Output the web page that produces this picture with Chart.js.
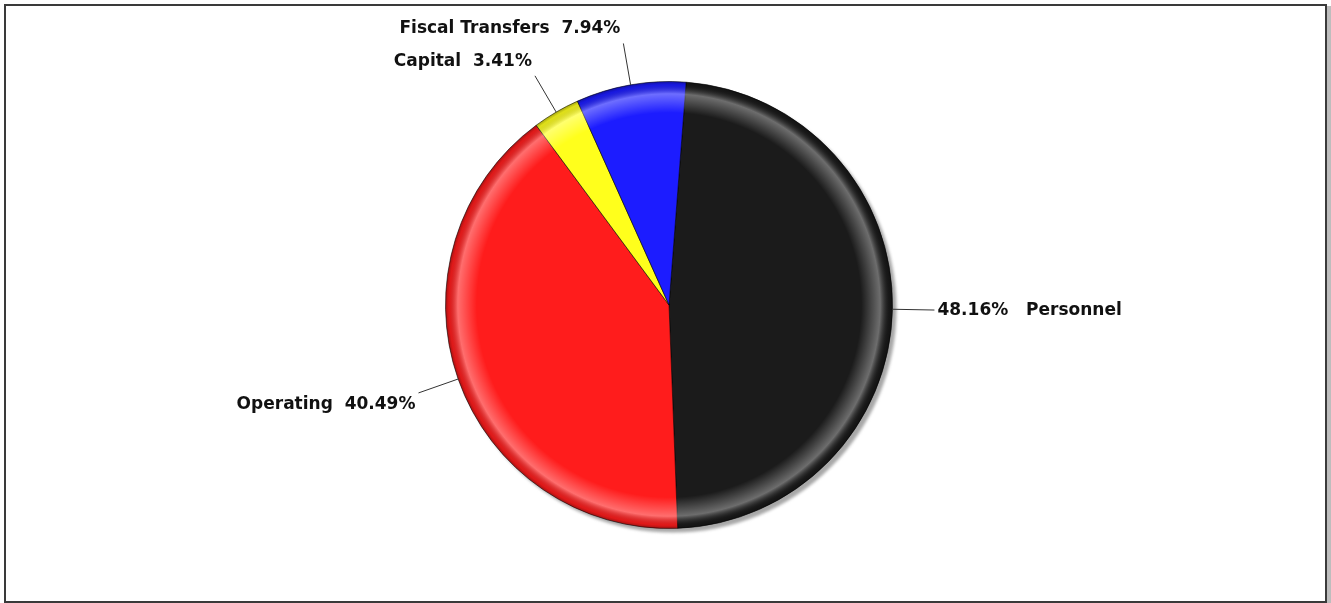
<!DOCTYPE html>
<html>
<head>
<meta charset="utf-8">
<script src="https://cdn.jsdelivr.net/npm/chart.js@4.4.1/dist/chart.umd.min.js"></script>
<style>
  html, body { margin: 0; padding: 0; background: #fff; }
  #wrap { position: relative; width: 1331px; height: 603px; }
</style>
</head>
<body>
<div id="wrap"><canvas id="spend-chart"></canvas></div>
<script>
// spending shares by category
const categories = ['Personnel', 'Operating', 'Capital', 'Fiscal Transfers'];
const shares = [48.16, 40.49, 3.41, 7.94];
const sliceColors = ['#1b1b1b', '#ff1c1c', '#ffff1c', '#1c1cff'];

// outer frame around the whole chart
const framePlugin = {
    id: 'frame',
    beforeDraw(chart) {
        const c = chart.ctx;
        c.save();
        c.fillStyle = '#bdbdbd';
        c.fillRect(1327, 6, 4, 597);
        c.strokeStyle = '#3a3a3a';
        c.lineWidth = 2;
        c.strokeRect(5, 5, 1321, 597);
        c.restore();
    }
};

// soft drop shadow behind the pie
const shadowPlugin = {
    id: 'pieShadow',
    beforeDatasetsDraw(chart) {
        const arc = chart.getDatasetMeta(0).data[0];
        if (!arc) return;
        const c = chart.ctx;
        c.save();
        c.filter = 'blur(1.5px)';
        c.fillStyle = '#a8a8a8';
        c.beginPath();
        c.arc(arc.x + 4, arc.y + 4, arc.outerRadius, 0, Math.PI * 2);
        c.fill();
        c.restore();
    }
};

// lighter ring near the rim, darker towards the edge
const rimPlugin = {
    id: 'rim',
    afterDatasetsDraw(chart) {
        const arc = chart.getDatasetMeta(0).data[0];
        if (!arc) return;
        const c = chart.ctx;
        const r = arc.outerRadius;
        const g = c.createRadialGradient(arc.x, arc.y, 0, arc.x, arc.y, r);
        g.addColorStop(0, 'rgba(255,255,255,0)');
        g.addColorStop(0.86, 'rgba(255,255,255,0)');
        g.addColorStop(0.945, 'rgba(255,255,255,0.36)');
        g.addColorStop(0.985, 'rgba(0,0,0,0.12)');
        g.addColorStop(1, 'rgba(0,0,0,0.35)');
        c.save();
        c.fillStyle = g;
        c.beginPath();
        c.arc(arc.x, arc.y, r, 0, Math.PI * 2);
        c.fill();
        c.restore();
    }
};

// callout labels with leader lines
const calloutPlugin = {
    id: 'callouts',
    afterDraw(chart) {
        const meta = chart.getDatasetMeta(0);
        const c = chart.ctx;
        c.save();
        c.font = 'bold 17px "DejaVu Sans", sans-serif';
        c.fillStyle = '#111';
        c.strokeStyle = '#333';
        c.lineWidth = 1;
        meta.data.forEach((arc, i) => {
            const mid = (arc.startAngle + arc.endAngle) / 2;
            const dx = Math.cos(mid), dy = Math.sin(mid);
            const r = arc.outerRadius;
            const len = 42;
            const x0 = arc.x + dx * r, y0 = arc.y + dy * r;
            const x1 = arc.x + dx * (r + len), y1 = arc.y + dy * (r + len);
            c.beginPath();
            c.moveTo(x0, y0);
            c.lineTo(x1, y1);
            c.stroke();

            const pct = shares[i].toFixed(2) + '%';
            let text, tx;
            if (dx >= 0) {
                c.textAlign = 'left';
                text = pct + '   ' + categories[i];
                tx = x1 + 3;
            } else {
                c.textAlign = 'right';
                text = categories[i] + '  ' + pct;
                tx = x1 - 3;
            }
            let ty = y1;
            if (dy < -0.5) { c.textBaseline = 'bottom'; ty = y1 - 6; }
            else if (dy > 0.3) { c.textBaseline = 'top'; ty = y1 + 3; }
            else { c.textBaseline = 'middle'; ty = y1 + 1; }
            c.fillText(text, tx, ty);
        });
        c.restore();
    }
};

const ctx = document.getElementById('spend-chart').getContext('2d');
new Chart(ctx, {
    type: 'pie',
    data: {
        labels: categories,
        datasets: [{
            data: shares,
            backgroundColor: sliceColors,
            borderColor: 'rgba(0,0,0,0.55)',
            borderWidth: 1
        }]
    },
    options: {
        responsive: true,
        maintainAspectRatio: false,
        animation: false,
        rotation: 4.4,
        layout: { padding: { top: 81, bottom: 74, left: 300, right: 293 } },
        plugins: {
            legend: { display: false },
            tooltip: { enabled: false }
        }
    },
    plugins: [framePlugin, shadowPlugin, rimPlugin, calloutPlugin]
});
</script>
</body>
</html>
